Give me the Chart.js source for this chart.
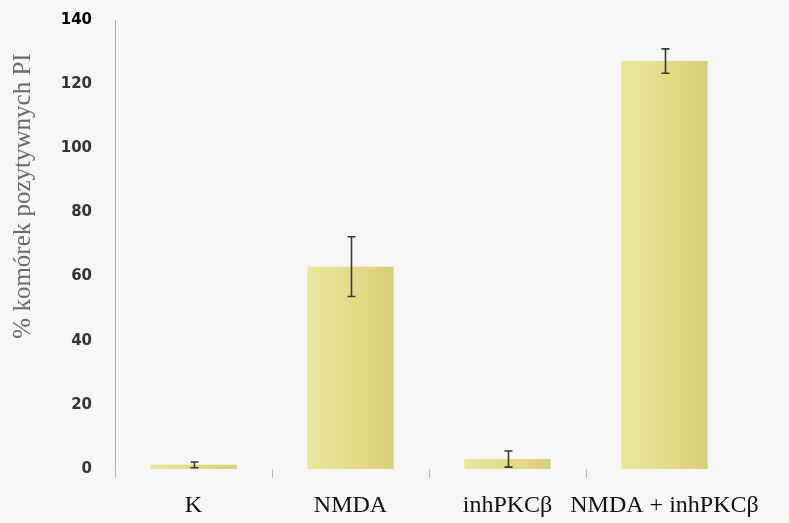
<!DOCTYPE html>
<html>
<head>
<meta charset="utf-8">
<script src="https://cdn.jsdelivr.net/npm/chart.js@4"></script>
<style>
  html, body { margin: 0; padding: 0; background: #f6f6f4; }
  canvas { display: block; }
</style>
</head>
<body>
<canvas id="myChart" width="789" height="523"></canvas>
<script>
var categories = ["K", "NMDA", "inhPKC\u03B2", "NMDA + inhPKC\u03B2"];
var means = [1.3, 63.1, 3.1, 127.2];
var errors = [0.9, 9.3, 2.5, 3.8];
var yTicks = [0, 20, 40, 60, 80, 100, 120, 140];
var yTitle = '% komórek pozytywnych PI';

// draws the error bars from the y scale
var errorBars = {
  id: 'errorBars',
  afterDatasetsDraw: function(chart) {
    var ctx = chart.ctx;
    var y = chart.scales.y;
    var meta = chart.getDatasetMeta(0);
    ctx.save();
    ctx.strokeStyle = '#3a3a3a';
    ctx.lineWidth = 1.6;
    meta.data.forEach(function(bar, i) {
      var top = y.getPixelForValue(means[i] + errors[i]);
      var bot = y.getPixelForValue(Math.max(0, means[i] - errors[i]));
      var x = bar.x + 1;
      ctx.beginPath();
      ctx.moveTo(x, top); ctx.lineTo(x, bot);
      ctx.moveTo(x - 4, top); ctx.lineTo(x + 4, top);
      ctx.moveTo(x - 4, bot); ctx.lineTo(x + 4, bot);
      ctx.stroke();
    });
    ctx.restore();
  }
};

// y title sits a bit above the middle of the axis
var sideTitle = {
  id: 'sideTitle',
  afterDraw: function(chart) {
    var ctx = chart.ctx;
    ctx.save();
    ctx.translate(23, 196);
    ctx.rotate(-Math.PI / 2);
    ctx.font = '25px "Liberation Serif"';
    ctx.fillStyle = '#6a6a6a';
    ctx.textAlign = 'center';
    ctx.textBaseline = 'middle';
    ctx.fillText(yTitle, 0, 0);
    ctx.restore();
  }
};

function barFill(c) {
  var chart = c.chart;
  var xs = chart.scales && chart.scales.x;
  if (!chart.chartArea || !xs) return '#e2dc8c';
  var cx = xs.getPixelForValue(c.dataIndex);
  var g = chart.ctx.createLinearGradient(cx - 43, 0, cx + 43, 0);
  g.addColorStop(0, '#eae69c');
  g.addColorStop(0.5, '#e3dd88');
  g.addColorStop(1, '#d7cf7a');
  return g;
}

var ctx = document.getElementById("myChart").getContext('2d');
var myChart = new Chart(ctx, {
  type: 'bar',
  data: {
    labels: categories,
    datasets: [{
      data: means,
      backgroundColor: barFill,
      borderWidth: 0,
      categoryPercentage: 1,
      barPercentage: 0.55
    }]
  },
  options: {
    responsive: false,
    animation: false,
    layout: { padding: { top: 20, right: 46, bottom: 0, left: 0 } },
    plugins: { legend: { display: false }, tooltip: { enabled: false } },
    scales: {
      x: {
        offset: true,
        afterFit: function(scale) { scale.height = 54; },
        border: { display: false },
        grid: {
          offset: true,
          drawOnChartArea: false,
          drawTicks: true,
          tickLength: 9,
          color: function(c) { return c.type === 'tick' ? '#b8b8b8' : 'rgba(0,0,0,0)'; }
        },
        ticks: {
          padding: 13,
          autoSkip: false,
          maxRotation: 0,
          minRotation: 0,
          color: '#111',
          font: { family: 'Liberation Serif', size: 24 }
        }
      },
      y: {
        min: 0,
        max: 140,
        afterBuildTicks: function(scale) {
          scale.ticks = yTicks.map(function(v) { return { value: v }; });
        },
        afterFit: function(scale) {
          scale.width = 115;
          scale.paddingTop = 0;
          scale.paddingBottom = 0;
        },
        border: { display: true, color: '#b0b0b0', width: 1 },
        grid: { display: false },
        ticks: {
          padding: 15,
          color: function(c) { return c.tick && c.tick.value === 140 ? '#000' : '#333'; },
          font: { family: 'DejaVu Sans', size: 15, weight: 'bold' }
        }
      }
    }
  },
  plugins: [errorBars, sideTitle]
});
</script>
</body>
</html>
